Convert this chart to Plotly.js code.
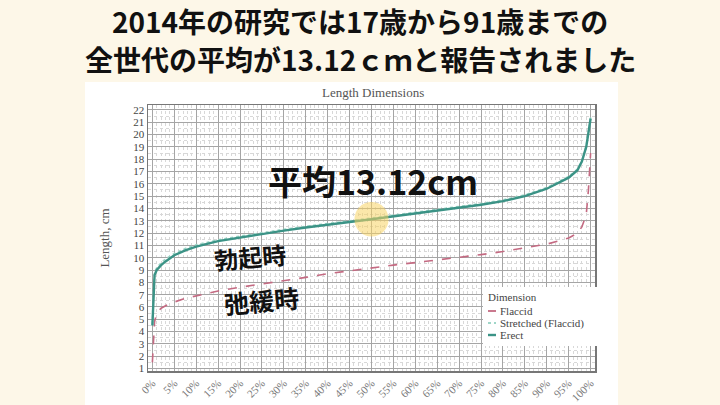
<!DOCTYPE html>
<html>
<head>
<meta charset="utf-8">
<script src="https://cdn.plot.ly/plotly-3.0.1.min.js"></script>
<style>
html,body{margin:0;padding:0;background:#fdf7e8;}
#chart{width:720px;height:405px;}
</style>
</head>
<body>
<div id="chart"></div>
<script>
const pct = [0, 0.2, 0.5, 1, 2, 3, 5, 7.5, 10, 15, 20, 25, 30, 35, 40, 45, 50, 55, 60, 65, 70, 75, 80, 85, 90, 93, 95, 97, 98, 99, 99.5, 100];
const erect = [4.5, 7.0, 8.6, 9.0, 9.4, 9.7, 10.2, 10.6, 10.9, 11.35, 11.65, 11.95, 12.2, 12.45, 12.7, 12.9, 13.12, 13.35, 13.55, 13.8, 14.05, 14.3, 14.6, 15.0, 15.6, 16.1, 16.5, 17.1, 17.8, 19.0, 20.3, 21.3];
const stretched = [4.6, 7.2, 8.8, 9.2, 9.6, 9.9, 10.35, 10.75, 11.05, 11.45, 11.75, 12.05, 12.3, 12.55, 12.8, 13.0, 13.22, 13.45, 13.65, 13.9, 14.15, 14.4, 14.7, 15.1, 15.7, 16.2, 16.6, 17.2, 17.9, 19.1, 20.4, 21.4];
const flaccid = [1.5, 3.5, 4.8, 5.5, 5.9, 6.1, 6.4, 6.7, 6.9, 7.3, 7.6, 7.85, 8.1, 8.4, 8.7, 8.95, 9.2, 9.4, 9.6, 9.8, 10.0, 10.25, 10.5, 10.8, 11.1, 11.4, 11.6, 12.0, 12.5, 13.5, 15.5, 18.5];
const xTickVals = [0,5,10,15,20,25,30,35,40,45,50,55,60,65,70,75,80,85,90,95,100];
const xTickText = xTickVals.map(v => v + '%');
const yTickVals = [1,2,3,4,5,6,7,8,9,10,11,12,13,14,15,16,17,18,19,20,21,22];
const seriesNames = ['Flaccid', 'Stretched (Flaccid)', 'Erect'];
const seriesColors = ['#c46a82', '#9fd6c8', '#3b9386'];
const seriesDash = ['dash', 'dot', 'solid'];
const meanValue = 13.12;
const meanPct = 50;

const serif = 'Liberation Serif, DejaVu Serif, serif';
const jp = 'Noto Sans CJK JP, sans-serif';

const seriesY = [flaccid, stretched, erect];
const widths = [1.6, 1.6, 2.4];
const traces = seriesY.map((ys, i) => ({
  x: pct, y: ys, name: seriesNames[i], mode: 'lines', showlegend: false,
  line: {color: seriesColors[i], width: widths[i], dash: seriesDash[i]}
}));

const PX = px => (px - 148) / 447;
const PY = py => (371 - py) / 266;

const shapes = [
  {type: 'rect', xref: 'paper', yref: 'paper', x0: PX(85), x1: PX(618), y0: PY(405), y1: PY(82),
   fillcolor: '#ffffff', line: {width: 0}, layer: 'below'},
  {type: 'circle', xref: 'x', yref: 'y', x0: meanPct - 3.9, x1: meanPct + 3.9, y0: meanValue - 1.4, y1: meanValue + 1.4,
   fillcolor: 'rgba(248,212,100,0.55)', line: {width: 0}, layer: 'above'},
  {type: 'rect', xref: 'paper', yref: 'paper', x0: PX(483), x1: PX(598), y0: PY(346), y1: PY(287),
   fillcolor: '#ffffff', line: {width: 0}, layer: 'above'}
];
const annotations = [
  {text: '<b>2014年の研究では17歳から91歳までの</b>', xref: 'paper', yref: 'paper',
   x: PX(360), y: PY(21), xanchor: 'center', yanchor: 'middle', showarrow: false,
   font: {family: jp, size: 28, color: '#111'}},
  {text: '<b>全世代の平均が13.12ｃｍと報告されました</b>', xref: 'paper', yref: 'paper',
   x: PX(360), y: PY(59), xanchor: 'center', yanchor: 'middle', showarrow: false,
   font: {family: jp, size: 28, color: '#111'}},
  {text: 'Length Dimensions', xref: 'paper', yref: 'paper',
   x: PX(373), y: PY(92), xanchor: 'center', yanchor: 'middle', showarrow: false,
   font: {family: serif, size: 13, color: '#555'}},
  {text: '<b>平均13.12cm</b>', xref: 'paper', yref: 'paper',
   x: PX(373), y: PY(180), xanchor: 'center', yanchor: 'middle', showarrow: false,
   font: {family: jp, size: 34, color: '#111'}},
  {text: '<b>勃起時</b>', xref: 'paper', yref: 'paper', textangle: -5,
   x: PX(250), y: PY(256), xanchor: 'center', yanchor: 'middle', showarrow: false,
   font: {family: jp, size: 24, color: '#111'}},
  {text: '<b>弛緩時</b>', xref: 'paper', yref: 'paper', textangle: -5,
   x: PX(261), y: PY(300), xanchor: 'center', yanchor: 'middle', showarrow: false,
   font: {family: jp, size: 25, color: '#111'}},
  {text: 'Dimension', xref: 'paper', yref: 'paper',
   x: PX(486), y: PY(297), xanchor: 'left', yanchor: 'middle', showarrow: false,
   font: {family: serif, size: 11, color: '#444'}}
];
seriesNames.forEach((n, i) => {
  const yy = 311 + i * 12;
  shapes.push({type: 'line', xref: 'paper', yref: 'paper', x0: PX(488), x1: PX(496), y0: PY(yy), y1: PY(yy),
    line: {color: seriesColors[i], width: i === 2 ? 2.4 : 1.8, dash: i === 1 ? 'dot' : 'solid'}, layer: 'above'});
  annotations.push({text: n, xref: 'paper', yref: 'paper', x: PX(498), y: PY(yy),
    xanchor: 'left', yanchor: 'middle', showarrow: false,
    font: {family: serif, size: 11, color: '#444'}});
});

const layout = {
  width: 720, height: 405,
  margin: {l: 148, r: 125, t: 105, b: 34},
  paper_bgcolor: '#fdf7e8',
  plot_bgcolor: '#ffffff',
  showlegend: false,
  xaxis: {
    range: [-1, 101],
    tickvals: xTickVals, ticktext: xTickText, tickangle: -45,
    tickfont: {family: serif, size: 11, color: '#777'},
    showgrid: true, gridcolor: '#a5a5a5', gridwidth: 1,
    minor: {dtick: 1, showgrid: true, gridcolor: '#d8d8d8', griddash: 'dot', gridwidth: 1},
    zeroline: false, showline: true, linecolor: '#777', linewidth: 1.5, mirror: true,
    ticks: '', fixedrange: true
  },
  yaxis: {
    range: [0.8, 22.4],
    tickvals: yTickVals,
    tickfont: {family: serif, size: 11, color: '#444'},
    title: {text: 'Length, cm', font: {family: serif, size: 13, color: '#555'}, standoff: 20},
    showgrid: true, gridcolor: '#a5a5a5', gridwidth: 1,
    minor: {dtick: 0.5, showgrid: true, gridcolor: '#d8d8d8', griddash: 'dot', gridwidth: 1},
    zeroline: false, showline: true, linecolor: '#777', linewidth: 1.5, mirror: true,
    ticks: '', fixedrange: true
  },
  shapes: shapes,
  annotations: annotations
};

Plotly.newPlot('chart', traces, layout, {displayModeBar: false, staticPlot: true});
</script>
</body>
</html>
